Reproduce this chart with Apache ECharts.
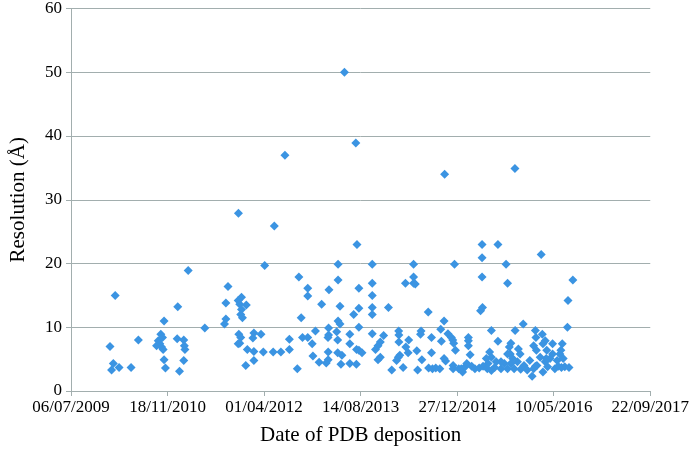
<!DOCTYPE html>
<html>
<head>
<meta charset="utf-8">
<script src="https://cdn.jsdelivr.net/npm/echarts@6/dist/echarts.min.js"></script>
<style>
html,body{margin:0;padding:0;background:#fff;}
#chart{width:692px;height:451px;}
</style>
</head>
<body>
<div id="chart"></div>
<script>
// Dates are Excel serial day numbers (1 = 01/01/1900)
const depositionDates = [
40229,40202,40219,40210,40249,40311,40349,40465,40452,40460,40469,40477,40482,40482,40489,40443,40474,
40553,40550,40584,40587,40590,40584,40562,40607,40693,40813,40802,40802,40795,40867,40883,40866,40874,
40908,40883,40879,40888,40869,40879,40874,40866,40913,40905,40947,40942,40984,40947,40947,40996,41003,
41053,41047,41087,41131,41131,41172,41180,41226,41226,41192,41199,41226,41249,41253,41285,41266,41298,
41336,41383,41383,41393,41383,41393,41334,41334,41331,41376,41381,41332,41332,41322,41381,41403,41398,
41444,41444,41444,41481,41491,41491,41464,41491,41479,41478,41491,41108,41416,41475,41935,42299,
41560,41560,41560,41560,41560,41644,41560,41619,41602,41590,41577,41602,41590,41507,41661,41697,41698,
41698,41720,41695,41703,41686,41734,41749,41746,41774,41774,41732,41774,41783,41791,41795,41813,41810,
41817,41850,41867,41867,41852,41872,41889,41910,41918,41915,41932,41932,41940,41952,41970,41977,41982,
41991,41986,41979,41979,42028,42021,42041,42058,42058,42058,42067,42075,42092,42114,42129,42211,42129,
42129,42253,42261,42435,42599,42574,42571,42121,42131,42177,42211,42300,42342,42405,42408,42396,42410,
42441,42456,42494,42544,42537,42278,42270,42317,42326,42275,42168,42177,42151,42160,42134,42156,42177,
42194,42202,42227,42244,42261,42278,42295,42312,42329,42346,42363,42376,42388,42396,42413,42430,42444,
42456,42464,42468,42481,42494,42506,42518,42532,42549,42557,42579,42540,42523,42444,42461,42405,42227,
42287,42261,42008,42050
];
const resolutions = [
15.0,7.0,4.3,3.3,3.7,3.7,8.0,8.9,7.9,7.4,6.9,6.5,11.0,4.9,3.6,7.1,8.4,
13.2,8.2,8.0,7.1,6.5,4.8,3.1,18.9,9.9,16.4,13.8,11.3,10.5,27.9,14.7,14.2,13.6,
13.5,12.8,12.0,11.5,8.9,8.4,7.5,7.4,6.5,4.0,9.1,8.3,8.9,6.2,4.8,6.1,19.7,
25.9,6.1,6.1,8.1,6.5,3.5,17.9,16.1,14.9,11.5,8.4,8.4,7.4,5.5,4.5,9.4,13.6,
15.9,19.9,17.4,13.3,11.0,10.5,9.9,8.8,8.4,9.3,8.0,6.1,4.9,4.4,6.0,5.6,4.2,
4.3,7.4,8.9,23.0,16.1,13.0,12.0,10.0,6.5,4.2,6.4,37.0,50.0,38.9,34.0,34.9,
19.9,16.9,15.0,13.1,12.0,13.1,9.0,8.7,7.7,7.1,6.5,5.3,4.9,6.0,3.3,9.4,8.8,
7.7,3.7,5.3,5.6,4.8,6.9,8.0,6.0,19.9,17.9,16.9,16.9,16.8,6.3,3.3,9.4,8.9,
4.9,12.4,8.4,6.0,3.6,3.5,3.6,3.5,7.8,9.7,11.0,5.1,4.7,9.0,8.4,8.0,7.5,
6.4,19.9,4.0,3.5,3.0,3.5,3.8,8.4,7.9,7.1,5.7,3.9,3.5,3.6,23.0,23.0,20.9,
17.9,19.9,16.9,21.4,17.4,14.2,10.0,12.6,13.1,9.5,7.8,9.5,10.5,9.5,8.4,7.1,6.4,
8.9,7.9,7.4,7.4,6.4,7.5,6.9,6.6,5.8,5.8,6.1,5.3,5.1,4.3,3.9,3.5,3.2,
3.7,4.6,3.5,4.3,3.5,4.3,3.5,4.6,3.4,4.0,3.3,4.8,2.3,3.5,4.0,5.3,3.0,
4.6,6.4,3.8,5.1,5.8,3.5,4.8,5.8,5.1,3.8,3.7,3.7,3.9,7.4,5.1,3.9,4.6,
5.1,5.8,3.5,4.3
];
const yTicks = [0,10,20,30,40,50,60];
const xTickSerials = [40000,40500,41000,41500,42000,42500,43000];

const points = depositionDates.map((d, i) => [d, resolutions[i]]);

function serialToLabel(v) {
  const ms = Date.UTC(1899, 11, 30) + Math.round(v) * 86400000;
  const dt = new Date(ms);
  const dd = String(dt.getUTCDate()).padStart(2, '0');
  const mm = String(dt.getUTCMonth() + 1).padStart(2, '0');
  return dd + '/' + mm + '/' + dt.getUTCFullYear();
}

const lineColor = '#A2AEAE';
const font = 'Liberation Serif';

const chart = echarts.init(document.getElementById('chart'), null, {renderer: 'canvas'});
chart.setOption({
  animation: false,
  backgroundColor: '#ffffff',
  grid: {left: 62.5, right: 38, top: 6.5, bottom: 56.5, containLabel: false},
  xAxis: {
    type: 'value',
    min: xTickSerials[0],
    max: xTickSerials[xTickSerials.length - 1],
    interval: 500,
    name: 'Date of PDB deposition',
    nameLocation: 'middle',
    nameGap: 34,
    nameTextStyle: {fontFamily: font, fontSize: 21, color: '#000'},
    axisLine: {show: true, lineStyle: {color: lineColor, width: 1}},
    axisTick: {show: true, length: 5, lineStyle: {color: lineColor}},
    splitLine: {show: false},
    axisLabel: {
      fontFamily: font, fontSize: 17, color: '#000', margin: 8,
      formatter: serialToLabel
    }
  },
  yAxis: {
    type: 'value',
    min: yTicks[0],
    max: yTicks[yTicks.length - 1],
    interval: 10,
    name: 'Resolution (Å)',
    nameLocation: 'middle',
    nameRotate: 90,
    nameGap: 42,
    nameTextStyle: {fontFamily: font, fontSize: 21, color: '#000'},
    axisLine: {show: true, lineStyle: {color: lineColor, width: 1}},
    axisTick: {show: true, length: 5, lineStyle: {color: lineColor}},
    splitLine: {show: true, lineStyle: {color: lineColor, width: 1}},
    axisLabel: {fontFamily: font, fontSize: 17, color: '#000', margin: 9}
  },
  series: [{
    type: 'scatter',
    data: points,
    symbol: 'diamond',
    symbolSize: [9, 9],
    itemStyle: {color: '#3B94E2', opacity: 1}
  }]
});
</script>
</body>
</html>
